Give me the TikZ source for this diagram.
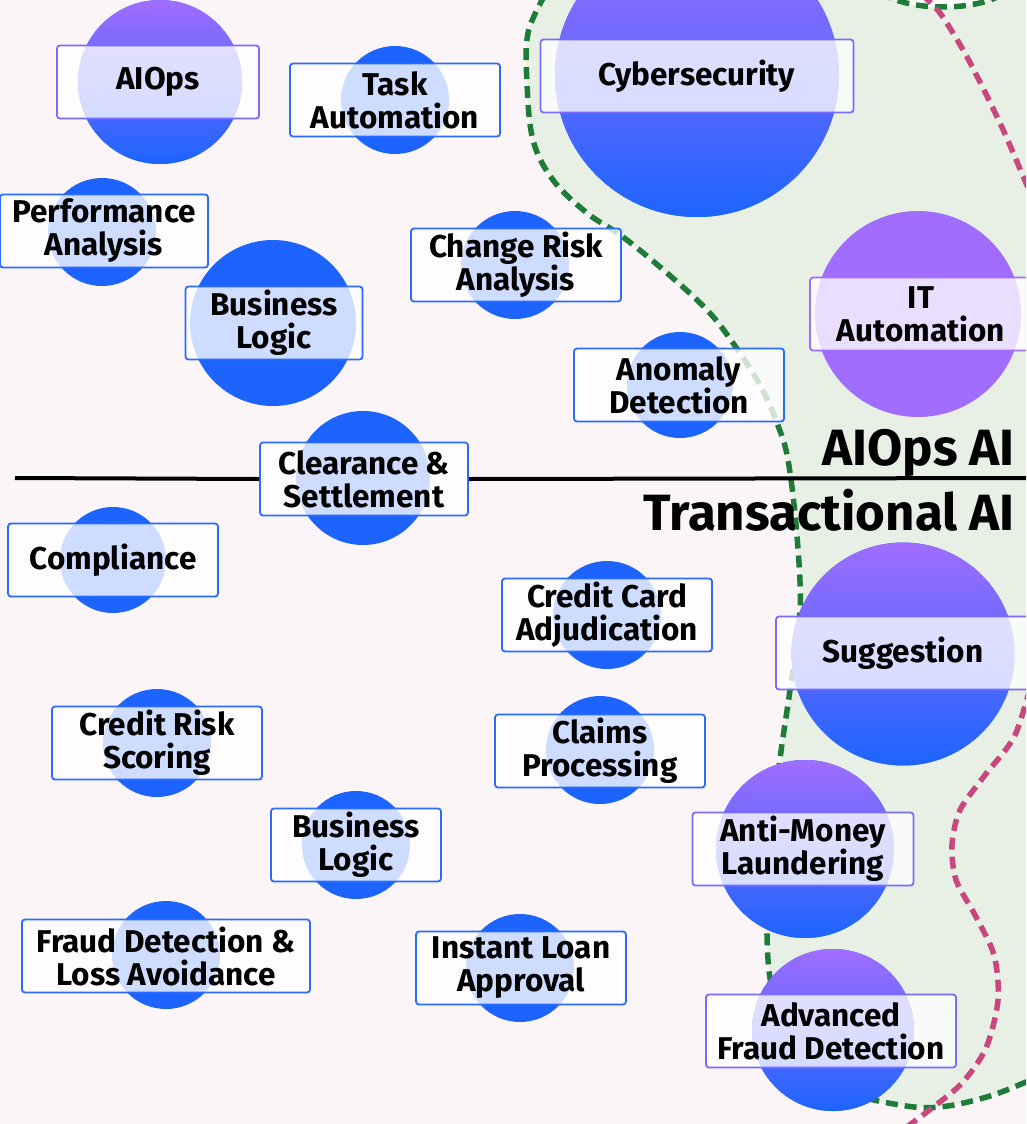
\documentclass[tikz,border=0pt]{standalone}
\usepackage{fontspec}
\setmainfont{Fira Sans}
\definecolor{paper}{HTML}{FCF5F8}
\definecolor{meadow}{HTML}{E8F0E6}
\definecolor{ibmblue}{HTML}{1D64FF}
\definecolor{ibmpurple}{HTML}{A06DFF}
\definecolor{tagblue}{HTML}{2A6BFF}
\definecolor{tagviolet}{HTML}{7A6BFF}
\definecolor{fencegreen}{HTML}{1E7B38}
\definecolor{fencepink}{HTML}{C8477F}
\newcommand{\tagfont}{\fontsize{31.5}{33}\selectfont\bfseries}
\newcommand{\headfont}{\fontsize{51}{56}\selectfont\bfseries}

\begin{document}
\begin{tikzpicture}[x=1pt,y=-1pt,
    bubble/.style={circle, fill=ibmblue, inner sep=0pt, minimum size=#1},
    duo/.style={top color=ibmpurple, bottom color=ibmblue},
    tag/.style={draw=tagblue, line width=1.8pt, rounded corners=3pt, fill=white, fill opacity=0.78, text opacity=1, align=center, minimum width=#1, minimum height=73, inner sep=2pt, font=\tagfont},
    tag/.default=210,
    fence/.style={line width=5.5pt, dash pattern=on 12pt off 7pt}]
    \useasboundingbox (0,0) rectangle (1026,1124);
    \clip (0,0) rectangle (1026,1124);
    \fill[paper] (0,0) rectangle (1026,1124);

    \fill[meadow] plot[smooth, tension=0.6] coordinates {(545,-5) (528,33) (527,83) (533,140) (553,180) (587,213) (623,237) (667,273) (707,310) (733,343) (760,385) (777,423) (788,460) (797,536) (800,613) (790,690) (780,759) (771,840) (767,935) (775,1000) (805,1060) (850,1092) (900,1105) (940,1107) (990,1096) (1035,1078)} -- (1035,-5) -- cycle;
    \draw[fencegreen, fence] plot[smooth, tension=0.6] coordinates {(545,-5) (528,33) (527,83) (533,140) (553,180) (587,213) (623,237) (667,273) (707,310) (733,343) (760,385) (777,423) (788,460) (797,536) (800,613) (790,690) (780,759) (771,840) (767,935) (775,1000) (805,1060) (850,1092) (900,1105) (940,1107) (990,1096) (1035,1078)};
    \draw[fencegreen, fill=white, fence] (943,-20) ellipse [x radius=70, y radius=27];
    \draw[fencepink, fence] plot[smooth] coordinates {(922,-5) (940,13) (967,57) (1000,123) (1026,183) (1040,215)};
    \draw[fencepink, fence] plot[smooth] coordinates {(1035,670) (1015,735) (985,775) (960,810) (952,845) (956,880) (975,915) (994,955) (998,1000) (986,1048) (962,1083) (932,1108) (900,1132)};

    \node[anchor=base east, inner sep=0pt, font=\headfont] (aiops-ai) at (1015,465) {AIOps AI};
    \node[anchor=base east, inner sep=0pt, font=\headfont] (trans-ai) at (1015,530) {Transactional AI};

    \node[bubble=164, duo] (aiops-c) at (160,82) {};
    \node[tag=202, draw=tagviolet] (aiops) at (158,82) {AIOps};
    \node[bubble=108] (task-c) at (395,100) {};
    \node[tag] (task) at (395,100) {Task\\Automation};
    \node[bubble=284, duo] (cyber-c) at (697,75) {};
    \node[tag=313, draw=tagviolet] (cyber) at (697,76) {Cybersecurity};
    \node[bubble=108] (perf-c) at (102,232) {};
    \node[tag=208] (perf) at (104,231) {Performance\\Analysis};
    \node[bubble=166] (blogic-c) at (273,323) {};
    \node[tag=177] (blogic) at (274,323) {Business\\Logic};
    \node[bubble=108] (change-c) at (515,265) {};
    \node[tag] (change) at (516,265) {Change Risk\\Analysis};
    \node[bubble=206, fill=ibmpurple] (it-c) at (918,314) {};
    \node[tag=222, draw=ibmpurple] (it) at (921,314) {IT\\Automation};
    \node[bubble=106] (anomaly-c) at (680,385) {};
    \node[tag] (anomaly) at (679,385) {Anomaly\\Detection};

    \node[bubble=134] (clear-c) at (363,478) {};
    \node[tag=208] (clear) at (364,479) {Clearance \&\\Settlement};
    \coordinate (rule-w) at (15,478);
    \coordinate (rule-e) at (1035,478);
    \draw[line width=4pt] (rule-w) -- (clear.west);
    \draw[line width=4pt] (clear.east) -- (rule-e);

    \node[bubble=106] (comp-c) at (113,560) {};
    \node[tag] (comp) at (113,560) {Compliance};
    \node[bubble=108] (card-c) at (607,615) {};
    \node[tag] (card) at (607,615) {Credit Card\\Adjudication};
    \node[bubble=223, duo] (sugg-c) at (903,654) {};
    \node[tag=254, draw=tagviolet] (sugg) at (903,653) {Suggestion};
    \node[bubble=108] (risk-c) at (157,743) {};
    \node[tag] (risk) at (157,743) {Credit Risk\\Scoring};
    \node[bubble=108] (claims-c) at (600,750) {};
    \node[tag] (claims) at (600,751) {Claims\\Processing};
    \node[bubble=178, duo] (aml-c) at (805,849) {};
    \node[tag=221, draw=tagviolet] (aml) at (803,849) {Anti-Money\\Laundering};
    \node[bubble=108] (blogic2-c) at (356,845) {};
    \node[tag=170] (blogic2) at (356,845) {Business\\Logic};
    \node[bubble=108] (fraud-c) at (166,955) {};
    \node[tag=288] (fraud) at (166,956) {Fraud Detection \&\\Loss Avoidance};
    \node[bubble=108] (loan-c) at (520,968) {};
    \node[tag] (loan) at (521,968) {Instant Loan\\Approval};
    \node[bubble=162, duo] (adv-c) at (833,1030) {};
    \node[tag=250, draw=tagviolet] (adv) at (831,1031) {Advanced\\Fraud Detection};
\end{tikzpicture}
\end{document}
